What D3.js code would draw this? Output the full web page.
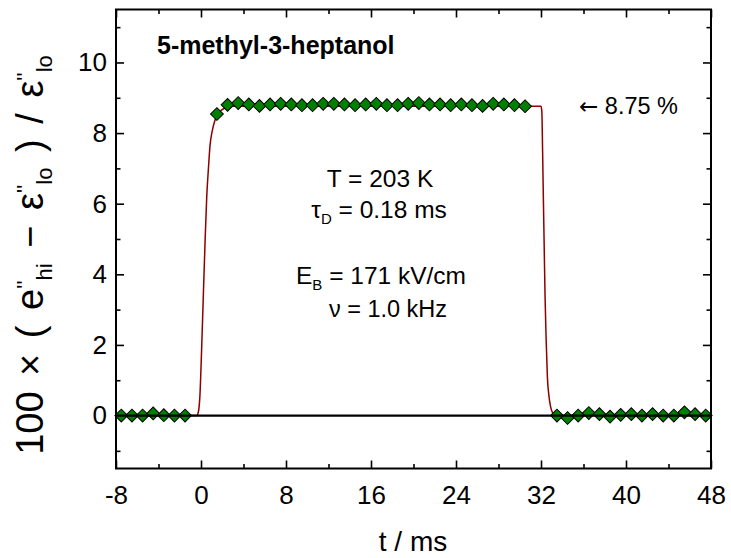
<!DOCTYPE html>
<html><head><meta charset="utf-8">
<script src="https://cdn.jsdelivr.net/npm/d3@7"></script>
<style>body{margin:0;background:#fff}svg{display:block}text{font-family:"Liberation Sans",Arial,sans-serif}</style>
</head><body><svg id="c" width="731" height="558"></svg>
<script>
// ---- data ----
const preT  = [-7.5,-6.5,-5.5,-4.5,-3.5,-2.5,-1.5];
const preV  = [0,0,0,0.06,0.01,0,0];
const pulseT = [1.5,2.5,3.5,4.5,5.5,6.5,7.5,8.5,9.5,10.5,11.5,12.5,13.5,14.5,15.5,16.5,17.5,18.5,19.5,20.5,21.5,22.5,23.5,24.5,25.5,26.5,27.5,28.5,29.5,30.5];
const pulseV = [8.54,8.80,8.85,8.81,8.77,8.81,8.83,8.81,8.79,8.79,8.83,8.83,8.81,8.79,8.81,8.83,8.79,8.79,8.83,8.85,8.81,8.81,8.79,8.81,8.79,8.77,8.83,8.81,8.79,8.76];
const postT = [33.5,34.5,35.5,36.5,37.5,38.5,39.5,40.5,41.5,42.5,43.5,44.5,45.5,46.5,47.5];
const postV = [0,-0.07,0,0.07,0.04,-0.03,0.02,0.04,0,0.04,0,0,0.09,0.04,0];
const fitT = [-8,-0.4,-0.25,-0.1,0.05,0.22,0.38,0.54,0.7,0.85,1.05,1.3,1.5,1.8,2.2,3,32,32.08,32.15,32.22,32.3,32.38,32.48,32.6,32.75,32.9,33.1,33.3,48];
const fitV = [0,0,0.1,0.57,1.8,3.4,4.9,6.2,7.0,7.65,8.05,8.35,8.5,8.62,8.7,8.76,8.76,8.6,7.5,6.2,4.8,3.4,2.2,1.1,0.55,0.25,0.07,0,0];
const xTicks = [-8,0,8,16,24,32,40,48];
const yTicks = [0,2,4,6,8,10];

// ---- layout ----
const svg = d3.select("#c");
const L=116,R=711,T=9.5,B=468.5;
const x = d3.scaleLinear().domain([-8,48]).range([L,R]);
const y = d3.scaleLinear().domain([-1.5,11.5]).range([B,T]);

const ax = g=>g.selectAll(".domain").remove();
const xMinor = d3.range(-4,48,8), yMinor = d3.range(-1,12,2);
const fmt = d=>String(d);
function tickStyle(g){g.selectAll("line").attr("stroke","#000").attr("stroke-width",1.6);g.selectAll("text").attr("font-size",26).attr("fill","#000");}

// bottom
svg.append("g").attr("transform",`translate(0,${B})`).call(d3.axisBottom(x).tickValues(xTicks).tickSizeInner(-8).tickSizeOuter(0).tickPadding(17).tickFormat(fmt)).call(ax).call(tickStyle);
svg.append("g").attr("transform",`translate(0,${B})`).call(d3.axisBottom(x).tickValues(xMinor).tickSize(-4.5).tickFormat("")).call(ax).call(tickStyle);
// top
svg.append("g").attr("transform",`translate(0,${T})`).call(d3.axisTop(x).tickValues(xTicks).tickSize(-8).tickFormat("")).call(ax).call(tickStyle);
svg.append("g").attr("transform",`translate(0,${T})`).call(d3.axisTop(x).tickValues(xMinor).tickSize(-4.5).tickFormat("")).call(ax).call(tickStyle);
// left
svg.append("g").attr("transform",`translate(${L},0)`).call(d3.axisLeft(y).tickValues(yTicks).tickSizeInner(-8).tickSizeOuter(0).tickPadding(9).tickFormat(fmt)).call(ax).call(tickStyle);
svg.append("g").attr("transform",`translate(${L},0)`).call(d3.axisLeft(y).tickValues(yMinor).tickSize(-4.5).tickFormat("")).call(ax).call(tickStyle);
// right
svg.append("g").attr("transform",`translate(${R},0)`).call(d3.axisRight(y).tickValues(yTicks).tickSize(-8).tickFormat("")).call(ax).call(tickStyle);
svg.append("g").attr("transform",`translate(${R},0)`).call(d3.axisRight(y).tickValues(yMinor).tickSize(-4.5).tickFormat("")).call(ax).call(tickStyle);

// fit line
const line = d3.line().x(d=>x(d[0])).y(d=>y(d[1])).curve(d3.curveMonotoneX);
svg.append("path").datum(fitT.map((t,i)=>[t,fitV[i]])).attr("d",line).attr("fill","none").attr("stroke","#8b0000").attr("stroke-width",1.5);

// diamonds
const pts = [].concat(preT.map((t,i)=>[t,preV[i]]), pulseT.map((t,i)=>[t,pulseV[i]]), postT.map((t,i)=>[t,postV[i]]));
const sym = d3.symbol().type(d3.symbolSquare).size(82);
svg.append("g").selectAll("path").data(pts).join("path").attr("d",sym)
  .attr("transform",d=>`translate(${x(d[0])},${y(d[1])}) rotate(45)`)
  .attr("fill","#008000").attr("stroke","#000").attr("stroke-width",1);

// zero line
svg.append("line").attr("x1",x(-8)).attr("x2",x(48)).attr("y1",y(0)).attr("y2",y(0)).attr("stroke","#000").attr("stroke-width",2.2);

// frame
svg.append("rect").attr("x",L).attr("y",T).attr("width",R-L).attr("height",B-T).attr("fill","none").attr("stroke","#000").attr("stroke-width",2);

// texts
svg.append("text").attr("x",157).attr("y",54).attr("font-size",25).attr("font-weight","bold").text("5-methyl-3-heptanol");
const ann = svg.append("g").attr("font-size",24.5).attr("text-anchor","middle");
ann.append("text").attr("x",380).attr("y",187).text("T = 203 K");
const t2 = ann.append("text").attr("x",379).attr("y",218);
t2.append("tspan").text("τ"); t2.append("tspan").attr("font-size",15).attr("dy",6).text("D"); t2.append("tspan").attr("dy",-6).text(" = 0.18 ms");
const t3 = ann.append("text").attr("x",381).attr("y",284);
t3.append("tspan").text("E"); t3.append("tspan").attr("font-size",15).attr("dy",6).text("B"); t3.append("tspan").attr("dy",-6).text(" = 171 kV/cm");
ann.append("text").attr("x",388).attr("y",317).attr("font-size",23.5).text("ν = 1.0 kHz");
const a8 = svg.append("text").attr("x",579).attr("y",114).attr("font-size",23.5);
a8.append("tspan").attr("font-family","DejaVu Sans").attr("font-size",23).text("←");
a8.append("tspan").text(" 8.75 %");

// axis titles
svg.append("text").attr("x",413).attr("y",551).attr("font-size",28).attr("text-anchor","middle").text("t / ms");
const yl = svg.append("text").attr("transform","translate(43,255) rotate(-90)").attr("font-size",38).attr("word-spacing",5).attr("text-anchor","middle");
yl.append("tspan").text("100 × ( e");
yl.append("tspan").attr("font-size",22).attr("dy",-11).text("''");
yl.append("tspan").attr("font-size",22).attr("dy",20).text("hi");
yl.append("tspan").attr("dy",-9).text(" − ε");
yl.append("tspan").attr("font-size",22).attr("dy",-11).text("''");
yl.append("tspan").attr("font-size",22).attr("dy",20).text("lo");
yl.append("tspan").attr("dy",-9).text(" ) / ε");
yl.append("tspan").attr("font-size",22).attr("dy",-11).text("''");
yl.append("tspan").attr("font-size",22).attr("dy",20).text("lo");
</script></body></html>
